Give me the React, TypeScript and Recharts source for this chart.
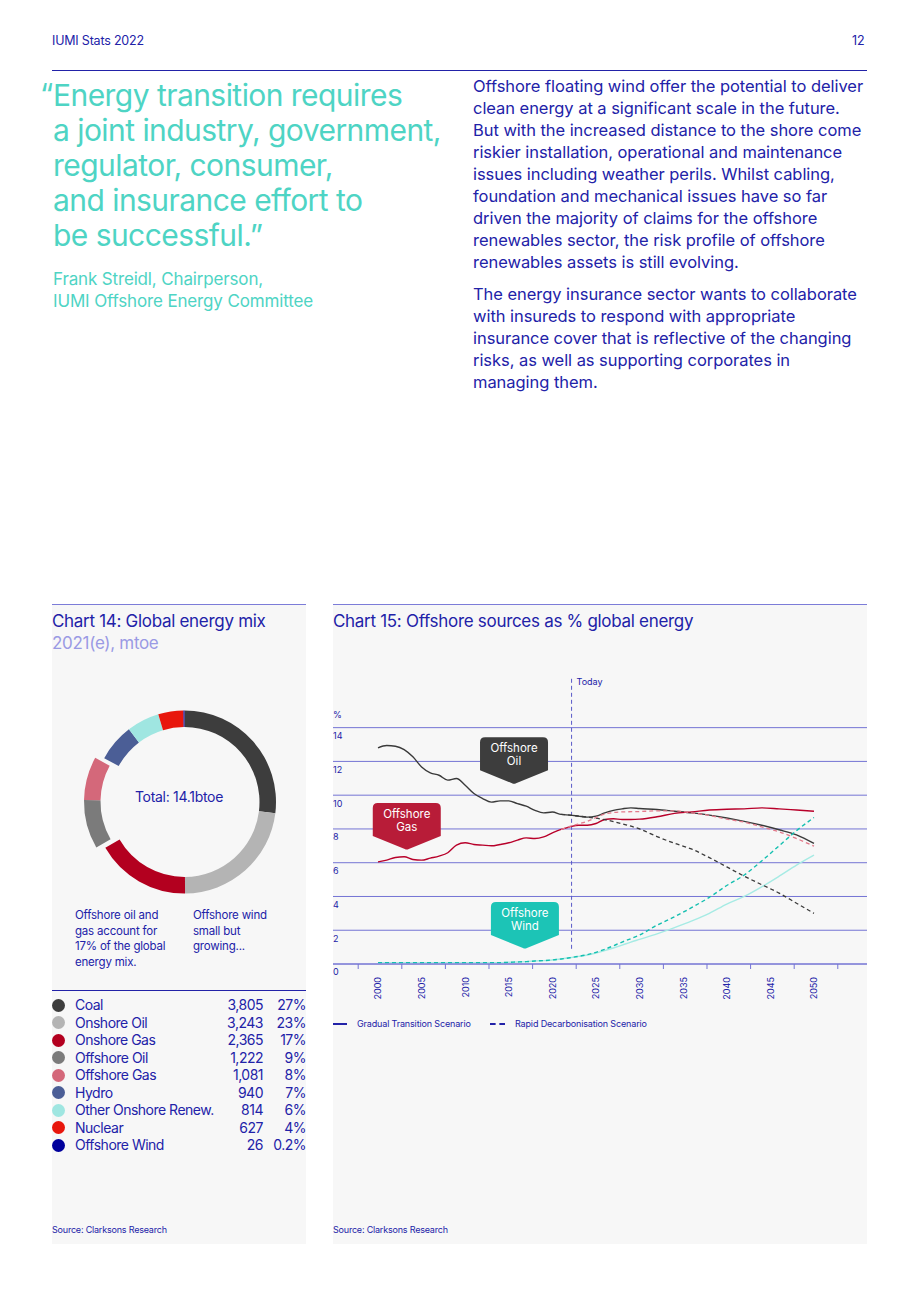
import React from "react";
import {
  CartesianGrid,
  Cell,
  Line,
  LineChart,
  Pie,
  PieChart,
  ReferenceDot,
  ReferenceLine,
  XAxis,
  YAxis,
} from "recharts";

const BLUE = "#2222a8";
const TEAL_TEXT = "#4ed4c4";
const PANEL = "#f7f7f7";
const GRID = "#7474d4";

// chart 14
const energyLabels = [
  "Coal",
  "Onshore Oil",
  "Onshore Gas",
  "Offshore Oil",
  "Offshore Gas",
  "Hydro",
  "Other Onshore Renew.",
  "Nuclear",
  "Offshore Wind",
];
const energyValues = [3805, 3243, 2365, 1222, 1081, 940, 814, 627, 26];
const energyPcts = ["27%", "23%", "17%", "9%", "8%", "7%", "6%", "4%", "0.2%"];
const energyColors = ["#3d3d3d", "#b4b4b4", "#b3001f", "#7b7b7b", "#d4687a", "#4b5e96", "#9fe6e1", "#e8160c", "#00009c"];
const offshoreOilGas = ["Offshore Oil", "Offshore Gas"];

// chart 15
const years = [
  2000, 2001, 2002, 2003, 2004, 2005, 2006, 2007, 2008, 2009, 2010, 2011, 2012, 2013, 2014, 2015,
  2016, 2017, 2018, 2019, 2020, 2021, 2022, 2023, 2024, 2025, 2026, 2027, 2028, 2029, 2030,
  2032, 2034, 2036, 2038, 2040, 2042, 2044, 2046, 2048, 2050,
];
const oilGradual = [
  12.8, 12.94, 12.9, 12.7, 12.27, 11.67, 11.32, 11.18, 10.89, 10.99, 10.59, 10.1, 9.8, 9.59, 9.66, 9.66,
  9.5, 9.35, 9.1, 8.95, 9.0, 8.86, 8.82, 8.76, 8.7, 8.76, 8.95, 9.1, 9.19, 9.25, 9.21,
  9.15, 9.05, 8.95, 8.82, 8.65, 8.45, 8.22, 7.95, 7.65, 7.14,
];
const gasGradual = [
  6.05, 6.15, 6.31, 6.35, 6.19, 6.15, 6.27, 6.39, 6.59, 7.04, 7.18, 7.08, 7.04, 7.0, 7.08, 7.18,
  7.34, 7.47, 7.43, 7.53, 7.77, 7.97, 8.12, 8.22, 8.22, 8.32, 8.56, 8.6, 8.56, 8.56, 8.58,
  8.72, 8.92, 9.01, 9.12, 9.17, 9.19, 9.25, 9.19, 9.12, 9.05,
];
const windGradual = [
  0.08, 0.08, 0.08, 0.08, 0.08, 0.08, 0.08, 0.08, 0.08, 0.08, 0.08, 0.08, 0.08, 0.08, 0.08, 0.1,
  0.12, 0.14, 0.18, 0.2, 0.24, 0.3, 0.37, 0.45, 0.53, 0.65, 0.79, 0.95, 1.12, 1.3, 1.46,
  1.78, 2.15, 2.55, 3.0, 3.55, 4.0, 4.57, 5.2, 5.86, 6.45,
];
const oilRapid = [
  null, null, null, null, null, null, null, null, null, null, null, null, null, null, null, null,
  null, null, null, null, null, 8.86, 8.82, 8.76, 8.7, null, 8.55, null, 8.3, null, 8.0,
  7.55, 7.15, 6.8, 6.3, 5.75, 5.2, 4.7, 4.2, 3.6, 3.0,
];
const gasRapid = [
  null, null, null, null, null, null, null, null, null, null, null, null, null, null, null, null,
  null, null, null, null, null, 7.97, 8.15, null, 8.45, null, 8.88, null, 9.01, null, 9.03,
  9.07, 9.07, 8.95, 8.8, 8.58, 8.4, 8.12, 7.83, 7.43, 6.98,
];
const windRapid = [
  0.08, 0.08, 0.08, 0.08, 0.08, 0.08, 0.08, 0.08, 0.08, 0.08, 0.08, 0.08, 0.08, 0.08, 0.08, 0.1,
  0.12, 0.14, 0.18, 0.2, 0.24, 0.3, 0.37, 0.45, 0.55, null, 0.87, null, 1.3, null, 1.72,
  2.3, 2.8, 3.35, 3.95, 4.65, 5.27, 6.1, 7.0, 7.9, 8.68,
];
const yTicks = [0, 2, 4, 6, 8, 10, 12, 14];
const xTickLabels = ["2000", "2005", "2010", "2015", "2020", "2025", "2030", "2035", "2040", "2045", "2050"];
const todayYear = 2022.2;

const Y_DOMAIN: [number, number] = [0, 17];
const X_DOMAIN: [number, number] = [1994.84, 2056.08];
const PLOT_W = 534;
const PX_PER_YEAR = PLOT_W / (X_DOMAIN[1] - X_DOMAIN[0]);
const TICK_SHIFT = 2.27;
const xTicks = [...xTickLabels.map((l) => Number(l) - TICK_SHIFT), 2050 + 5 - TICK_SHIFT];

const lineData = years.map((year, i) => ({
  year,
  oilGradual: oilGradual[i],
  gasGradual: gasGradual[i],
  windGradual: windGradual[i],
  oilRapid: oilRapid[i],
  gasRapid: gasRapid[i],
  windRapid: windRapid[i],
}));

const pieData = energyLabels.map((name, i) => ({ name, value: energyValues[i] }));

const rightPara1 = [
  "Offshore floating wind offer the potential to deliver",
  "clean energy at a significant scale in the future.",
  "But with the increased distance to the shore come",
  "riskier installation, operational and maintenance",
  "issues including weather perils. Whilst cabling,",
  "foundation and mechanical issues have so far",
  "driven the majority of claims for the offshore",
  "renewables sector, the risk profile of offshore",
  "renewables assets is still evolving.",
];
const rightPara2 = [
  "The energy insurance sector wants to collaborate",
  "with insureds to respond with appropriate",
  "insurance cover that is reflective of the changing",
  "risks, as well as supporting corporates in",
  "managing them.",
];
const quoteLines = [
  "Energy transition requires",
  "a joint industry, government,",
  "regulator, consumer,",
  "and insurance effort to",
  "be successful.\u201d",
];

const abs = (left: number, top: number, extra: React.CSSProperties = {}): React.CSSProperties => ({
  position: "absolute",
  left,
  top,
  whiteSpace: "nowrap",
  ...extra,
});

function YTick(props: any) {
  const { x, y, payload } = props;
  return (
    <g>
      <text x={x} y={y + 9} fontSize={9} fill={BLUE} textAnchor="start" dominantBaseline="middle">
        {payload.value}
      </text>
      {payload.value === 14 && (
        <text x={x} y={y - 12} fontSize={9} fill={BLUE} textAnchor="start" dominantBaseline="middle">
          %
        </text>
      )}
    </g>
  );
}

function XTick(props: any) {
  const { x, y, index } = props;
  const label = xTickLabels[index];
  if (!label) return null;
  const lx = x + TICK_SHIFT * PX_PER_YEAR;
  return (
    <text
      x={lx}
      y={y}
      fontSize={9}
      fill={BLUE}
      textAnchor="end"
      dominantBaseline="central"
      transform={`rotate(-90 ${lx} ${y})`}
    >
      {label}
    </text>
  );
}

function Callout(props: any) {
  const { cx, cy, fill, lines } = props;
  const w = 68;
  const rectH = 35;
  const tip = 12;
  const r = 5;
  const l = cx - w / 2;
  const rgt = cx + w / 2;
  const bottom = cy - tip;
  const top = bottom - rectH;
  const d = `M ${l + r} ${top} H ${rgt - r} Q ${rgt} ${top} ${rgt} ${top + r} V ${bottom - 2} L ${cx + 2} ${cy - 1} Q ${cx} ${cy} ${cx - 2} ${cy - 1} L ${l} ${bottom - 2} V ${top + r} Q ${l} ${top} ${l + r} ${top} Z`;
  const mid = (top + bottom) / 2;
  return (
    <g>
      <path d={d} fill={fill} />
      {lines.map((t: string, i: number) => (
        <text
          key={t}
          x={cx}
          y={mid + (i - (lines.length - 1) / 2) * 12.5}
          fontSize={11.5}
          fill="#ffffff"
          textAnchor="middle"
          dominantBaseline="central"
        >
          {t}
        </text>
      ))}
    </g>
  );
}

function TodayLabel(props: any) {
  const { cx, cy } = props;
  return (
    <text x={cx + 5} y={cy} fontSize={9} fill={BLUE} dominantBaseline="central">
      Today
    </text>
  );
}

function EnergyMixDonut() {
  return (
    <PieChart width={254} height={220}>
      <Pie
        data={pieData}
        dataKey="value"
        cx={127.5}
        cy={109}
        startAngle={90}
        endAngle={-270}
        innerRadius={75}
        outerRadius={91.5}
        stroke="none"
        isAnimationActive={false}
      >
        {pieData.map((d, i) => (
          <Cell key={d.name} fill={offshoreOilGas.includes(d.name) ? "transparent" : energyColors[i]} />
        ))}
      </Pie>
      <Pie
        data={pieData}
        dataKey="value"
        cx={118.5}
        cy={108.7}
        startAngle={90}
        endAngle={-270}
        innerRadius={75}
        outerRadius={91.5}
        stroke="none"
        isAnimationActive={false}
      >
        {pieData.map((d, i) => (
          <Cell key={d.name} fill={offshoreOilGas.includes(d.name) ? energyColors[i] : "transparent"} />
        ))}
      </Pie>
    </PieChart>
  );
}

function gridRows({ offset }: any) {
  const span = Y_DOMAIN[1] - Y_DOMAIN[0];
  return yTicks.map((t) => offset.top + offset.height * (1 - (t - Y_DOMAIN[0]) / span));
}

function OffshoreShareChart() {
  return (
    <LineChart
      width={534}
      height={350}
      data={lineData}
      margin={{ top: 17, right: 0, bottom: 0, left: 0 }}
      style={{ overflow: "visible" }}
    >
      <CartesianGrid vertical={false} stroke={GRID} strokeWidth={1} horizontalCoordinatesGenerator={gridRows} />
      <XAxis
        dataKey="year"
        type="number"
        domain={X_DOMAIN}
        allowDataOverflow
        ticks={xTicks}
        interval={0}
        height={46}
        axisLine={{ stroke: GRID }}
        tickLine={{ stroke: GRID }}
        tickSize={5}
        tickMargin={8}
        tick={<XTick />}
      />
      <YAxis
        type="number"
        domain={Y_DOMAIN}
        ticks={yTicks}
        width={30}
        mirror
        axisLine={false}
        tickLine={false}
        tickSize={0}
        tickMargin={0}
        tick={<YTick />}
        interval={0}
      />
      <ReferenceLine
        segment={[
          { x: todayYear, y: 0.9 },
          { x: todayYear, y: 17 },
        ]}
        stroke="#5a5ac8"
        strokeDasharray="4 3"
      />
      <Line dataKey="oilGradual" stroke="#3a3a3a" strokeWidth={1.4} dot={false} type="monotone" connectNulls isAnimationActive={false} />
      <Line dataKey="gasGradual" stroke="#b8002a" strokeWidth={1.4} dot={false} type="monotone" connectNulls isAnimationActive={false} />
      <Line dataKey="windGradual" stroke="#a6ebe4" strokeWidth={1.4} dot={false} type="monotone" connectNulls isAnimationActive={false} />
      <Line dataKey="oilRapid" stroke="#3a3a3a" strokeWidth={1.3} strokeDasharray="4 3" dot={false} type="monotone" connectNulls isAnimationActive={false} />
      <Line dataKey="gasRapid" stroke="#e37a8b" strokeWidth={1.3} strokeDasharray="4 3" dot={false} type="monotone" connectNulls isAnimationActive={false} />
      <Line dataKey="windRapid" stroke="#14bfb0" strokeWidth={1.4} strokeDasharray="4 3" dot={false} type="monotone" connectNulls isAnimationActive={false} />
      <ReferenceDot x={todayYear} y={16.75} r={0} shape={(p: any) => <TodayLabel {...p} />} />
      <ReferenceDot x={2015.6} y={10.65} shape={(p: any) => <Callout {...p} fill="#3d3d3d" lines={["Offshore", "Oil"]} />} />
      <ReferenceDot x={2003.3} y={6.75} shape={(p: any) => <Callout {...p} fill="#b81c38" lines={["Offshore", "Gas"]} />} />
      <ReferenceDot x={2016.85} y={0.89} shape={(p: any) => <Callout {...p} fill="#1cc4b6" lines={["Offshore", "Wind"]} />} />
    </LineChart>
  );
}

export default function App() {
  return (
    <div
      style={{
        position: "absolute",
        left: 0,
        top: 0,
        width: 920,
        height: 1302,
        background: "#ffffff",
        fontFamily: "Inter, 'Noto Sans', sans-serif",
        color: BLUE,
        overflow: "hidden",
      }}
    >
      <div style={abs(52, 33, { fontSize: 12.5, letterSpacing: -0.2 })}>IUMI Stats 2022</div>
      <div style={abs(852, 33, { fontSize: 12.5 })}>12</div>
      <div style={abs(52, 70, { width: 815, height: 1, background: BLUE })} />

      {/* quote */}
      <div style={abs(40, 77, { fontSize: 30, color: TEAL_TEXT, lineHeight: "35px", letterSpacing: -0.6 })}>{"\u201c"}</div>
      {quoteLines.map((t, i) => (
        <div key={t} style={abs(53, 77.5 + i * 35, { fontSize: 30, color: TEAL_TEXT, lineHeight: "35px", letterSpacing: -0.55 })}>
          {t}
        </div>
      ))}
      {["Frank Streidl, Chairperson,", "IUMI Offshore Energy Committee"].map((t, i) => (
        <div key={t} style={abs(53, 268 + i * 22, { fontSize: 17, color: TEAL_TEXT, lineHeight: "22px", letterSpacing: -0.15 })}>
          {t}
        </div>
      ))}

      {/* body text */}
      {rightPara1.map((t, i) => (
        <div key={t} style={abs(473, 75 + i * 22, { fontSize: 16.5, lineHeight: "22px", letterSpacing: -0.05 })}>
          {t}
        </div>
      ))}
      {rightPara2.map((t, i) => (
        <div key={t} style={abs(473, 283 + i * 22, { fontSize: 16.5, lineHeight: "22px", letterSpacing: -0.05 })}>
          {t}
        </div>
      ))}

      {/* chart 14 panel */}
      <div style={abs(52, 604, { width: 254, height: 639, background: PANEL, borderTop: "1px solid #7c7cd8" })} />
      <div style={abs(52, 610, { fontSize: 17, lineHeight: "22px", letterSpacing: -0.3 })}>Chart 14: Global energy mix</div>
      <div style={abs(52, 632, { fontSize: 17, lineHeight: "22px", letterSpacing: -0.3, color: "#9a9ae4" })}>2021(e), mtoe</div>
      <div style={abs(52, 688)}>
        <EnergyMixDonut />
      </div>
      <div style={abs(126, 788, { width: 106, textAlign: "center", fontSize: 14, lineHeight: "18px", letterSpacing: -0.3 })}>
        Total: 14.1btoe
      </div>
      {["Offshore oil and", "gas account for", "17% of the global", "energy mix."].map((t, i) => (
        <div key={t} style={abs(75, 908 + i * 15.5, { fontSize: 11.5, lineHeight: "15.5px", letterSpacing: -0.2 })}>
          {t}
        </div>
      ))}
      {["Offshore wind", "small but", "growing..."].map((t, i) => (
        <div key={t} style={abs(193, 908 + i * 15.5, { fontSize: 11.5, lineHeight: "15.5px", letterSpacing: -0.2 })}>
          {t}
        </div>
      ))}
      <div style={abs(52, 990, { width: 254, height: 1, background: BLUE })} />
      {energyLabels.map((name, i) => (
        <div key={name} style={abs(52, 996 + i * 17.5, { width: 254, height: 17.5, fontSize: 14, lineHeight: "17.5px", letterSpacing: -0.5 })}>
          <span style={{ position: "absolute", left: 0, top: 2.5, width: 13, height: 13, borderRadius: "50%", background: energyColors[i] }} />
          <span style={{ position: "absolute", left: 23 }}>{name}</span>
          <span style={{ position: "absolute", right: 43, textAlign: "right" }}>{energyValues[i].toLocaleString("en-US")}</span>
          <span style={{ position: "absolute", right: 0, textAlign: "right" }}>{energyPcts[i]}</span>
        </div>
      ))}
      <div style={abs(52, 1224, { fontSize: 9, lineHeight: "12px", letterSpacing: -0.2 })}>Source: Clarksons Research</div>

      {/* chart 15 panel */}
      <div style={abs(333, 604, { width: 534, height: 639, background: PANEL, borderTop: "1px solid #7c7cd8" })} />
      <div style={abs(333, 610, { fontSize: 17, lineHeight: "22px", letterSpacing: -0.3 })}>
        Chart 15: Offshore sources as % global energy
      </div>
      <div style={abs(333, 660)}>
        <OffshoreShareChart />
      </div>
      <div style={abs(333, 1018, { fontSize: 9, lineHeight: "12px", letterSpacing: -0.15 })}>
        <span style={{ position: "absolute", left: 0, top: 5, width: 14, height: 2, background: BLUE }} />
        <span style={{ position: "absolute", left: 24 }}>Gradual Transition Scenario</span>
        <span style={{ position: "absolute", left: 157, top: 5, width: 15, borderTop: `2px dashed ${BLUE}` }} />
        <span style={{ position: "absolute", left: 182 }}>Rapid Decarbonisation Scenario</span>
      </div>
      <div style={abs(333, 1224, { fontSize: 9, lineHeight: "12px", letterSpacing: -0.2 })}>Source: Clarksons Research</div>
    </div>
  );
}
